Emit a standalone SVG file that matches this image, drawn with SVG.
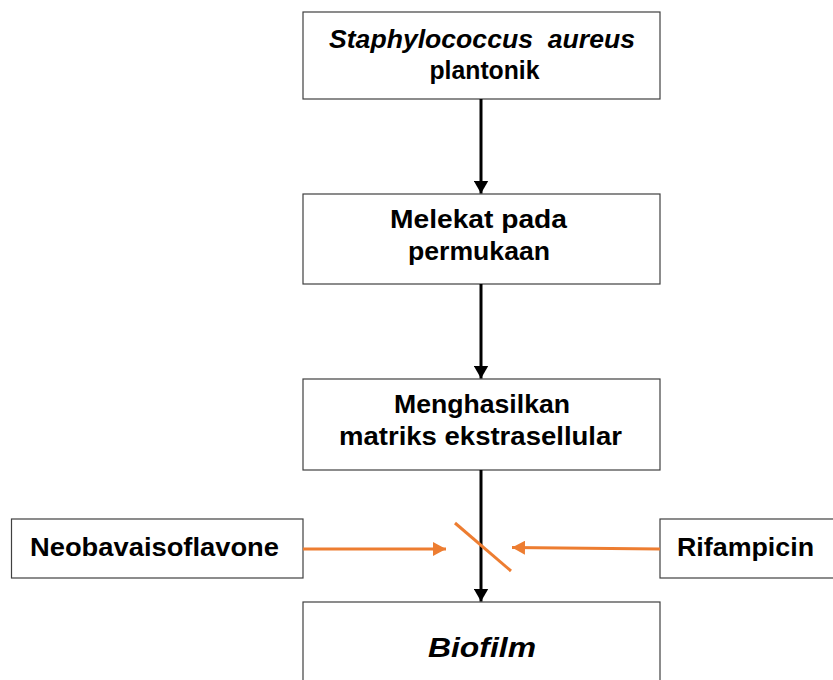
<svg xmlns="http://www.w3.org/2000/svg" width="833" height="680" viewBox="0 0 833 680">
<style>
.box{fill:#fff;stroke:#404040;stroke-width:1.2}
.t{font-family:"Liberation Sans",Arial,sans-serif;font-weight:bold;font-size:25px;fill:#000;text-anchor:middle}
.it{font-style:italic}
.blk{stroke:#000;stroke-width:3;fill:none}
.org{stroke:#ED7D31;stroke-width:3;fill:none}
</style>
<defs>
<marker id="ah" markerUnits="userSpaceOnUse" markerWidth="14" markerHeight="15" refX="13" refY="7.5" orient="auto">
<path d="M0,0 L13,7.5 L0,15 Z" fill="#000"/>
</marker>
<marker id="ao" markerUnits="userSpaceOnUse" markerWidth="14" markerHeight="14" refX="13" refY="7" orient="auto">
<path d="M0,0 L13,7 L0,14 Z" fill="#ED7D31"/>
</marker>
</defs>
<g id="n1"><rect class="box" x="303" y="12" width="357" height="87"/>
<text class="t it" x="482" y="48" textLength="306" lengthAdjust="spacingAndGlyphs" style="white-space:pre">Staphylococcus  aureus</text>
<text class="t" x="484.5" y="79" textLength="110" lengthAdjust="spacingAndGlyphs">plantonik</text></g>
<g id="n2"><rect class="box" x="303" y="194" width="357" height="90"/>
<text class="t" x="478.5" y="228" textLength="177" lengthAdjust="spacingAndGlyphs">Melekat pada</text>
<text class="t" x="479" y="260" textLength="142" lengthAdjust="spacingAndGlyphs">permukaan</text></g>
<g id="n3"><rect class="box" x="303" y="379" width="357" height="91"/>
<text class="t" x="482" y="413" textLength="176" lengthAdjust="spacingAndGlyphs">Menghasilkan</text>
<text class="t" x="480.5" y="445" textLength="283" lengthAdjust="spacingAndGlyphs">matriks ekstrasellular</text></g>
<g id="n4"><rect class="box" x="11.5" y="519" width="291.5" height="59"/>
<text class="t" x="154.5" y="556" textLength="249" lengthAdjust="spacingAndGlyphs">Neobavaisoflavone</text></g>
<g id="n5"><rect class="box" x="660" y="519" width="180" height="59"/>
<text class="t" x="745.5" y="556" textLength="137" lengthAdjust="spacingAndGlyphs">Rifampicin</text></g>
<g id="n6"><rect class="box" x="303" y="602" width="357" height="90"/>
<text class="t it" x="482" y="657" style="font-size:28px" textLength="108" lengthAdjust="spacingAndGlyphs">Biofilm</text></g>
<g id="connectors">
<line class="blk" x1="481" y1="99" x2="481" y2="193.5" marker-end="url(#ah)"/>
<line class="blk" x1="481" y1="284" x2="481" y2="378.5" marker-end="url(#ah)"/>
<line class="blk" x1="481" y1="470" x2="481" y2="601.5" marker-end="url(#ah)"/>
<line class="org" x1="455" y1="523" x2="511" y2="571"/>
<line class="org" x1="303" y1="549" x2="446" y2="549" marker-end="url(#ao)"/>
<line class="org" x1="660" y1="549" x2="512" y2="547.5" marker-end="url(#ao)"/>
</g>
</svg>
